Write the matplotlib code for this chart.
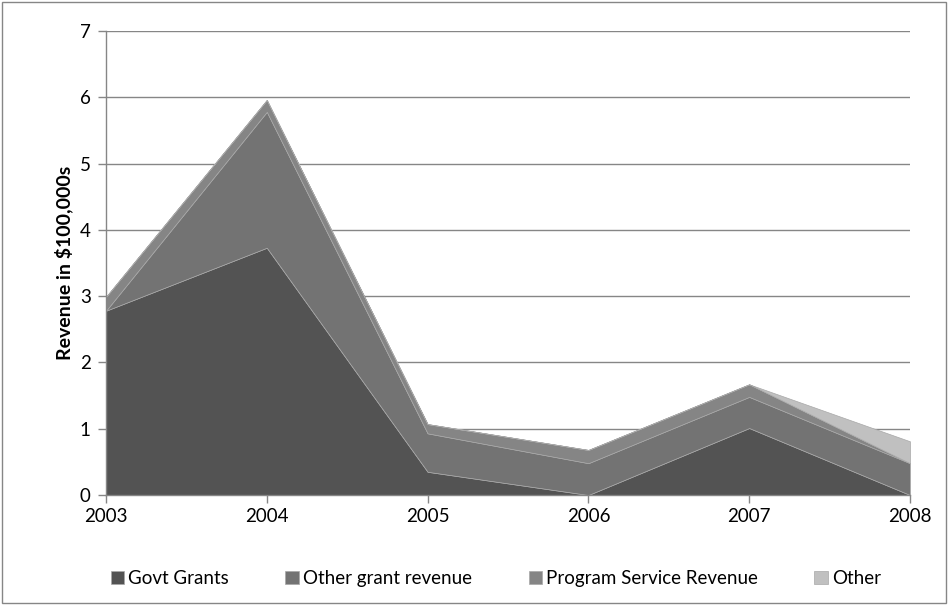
import numpy as np
import matplotlib
matplotlib.use("Agg")
import matplotlib.pyplot as plt
from matplotlib.patches import Rectangle

years = [2003, 2004, 2005, 2006, 2007, 2008]
govt_grants = [2.78, 3.73, 0.35, 0.00, 1.01, 0.00]
other_grant = [0.00, 2.05, 0.58, 0.48, 0.47, 0.48]
program_service = [0.21, 0.18, 0.14, 0.20, 0.19, 0.00]
other = [0.00, 0.00, 0.00, 0.00, 0.00, 0.33]

labels = ["Govt Grants", "Other grant revenue", "Program Service Revenue", "Other"]
colors = ["#535353", "#737373", "#858585", "#c0c0c0"]

plt.rcParams["font.family"] = ["Lato", "DejaVu Sans"]

fig = plt.figure(figsize=(9.48, 6.05), dpi=100)
ax = fig.add_axes([106/948, 1-495/605, (910-106)/948, (495-31)/605])

polys = ax.stackplot(years, govt_grants, other_grant, program_service, other,
                     colors=colors, labels=labels, zorder=3)
for p in polys:
    p.set_edgecolor("#a8a8a8")
    p.set_linewidth(0.5)

ax.set_xlim(2003, 2008)
ax.set_ylim(0, 7)
ax.set_yticks(range(0, 8))
ax.set_xticks(years)
ax.grid(axis="y", color="#868686", linewidth=1.0, zorder=1)
ax.set_axisbelow(True)

for side in ["top", "right"]:
    ax.spines[side].set_visible(False)
for side in ["left", "bottom"]:
    ax.spines[side].set_color("#868686")
    ax.spines[side].set_linewidth(1.0)
    ax.spines[side].set_zorder(4)
ax.tick_params(axis="both", colors="#868686", labelcolor="black", labelsize=13.5,
               length=6, width=1.0)
ax.tick_params(axis="y", pad=5)

ax.set_ylabel("Revenue in $100,000s", fontsize=14, fontweight="bold", labelpad=5)

ax.legend(loc="upper center", bbox_to_anchor=(0.485, -0.125), ncol=4, frameon=False,
          fontsize=13.5, handlelength=0.7, handleheight=0.7, columnspacing=3.0,
          handletextpad=0.25)

fig.patches.append(Rectangle((0.002, 0.003), 0.996, 0.994, transform=fig.transFigure,
                             fill=False, edgecolor="#868686", linewidth=1.0))

fig.savefig("out.png", dpi=100)
